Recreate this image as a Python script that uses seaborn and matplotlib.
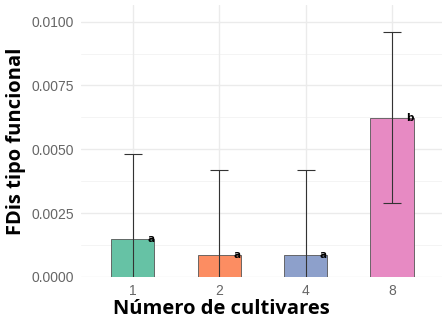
import matplotlib
matplotlib.use("Agg")
import matplotlib.pyplot as plt
import seaborn as sns
import pandas as pd
import numpy as np

# FDis by number of cultivars: mean, standard deviation and group letters
cultivares = ["1", "2", "4", "8"]
fdis_media = [0.00148, 0.00085, 0.00088, 0.00624]
fdis_dp = [0.00333, 0.00333, 0.00332, 0.00334]
letras = ["a", "a", "a", "b"]
cores = ["#66C2A5", "#FC8D62", "#8DA0CB", "#E78AC3"]
y_ticks = [0.0, 0.0025, 0.005, 0.0075, 0.01]
y_labels = ["0.0000", "0.0025", "0.0050", "0.0075", "0.0100"]

df = pd.DataFrame({"cultivares": cultivares, "fdis": fdis_media})

sns.set_theme(style="white")
fig = plt.figure(figsize=(4.42, 3.23), dpi=100)
W, H = 442, 323
ax = fig.add_axes([81 / W, (H - 277) / H, 362.8 / W, 272 / H])

# background grid (major + minor)
ax.set_axisbelow(True)
for yv in y_ticks:
    ax.axhline(yv, color="#ebebeb", lw=1.0, zorder=0)
for yv in np.arange(0.00125, 0.0105, 0.0025):
    ax.axhline(yv, color="#f2f2f2", lw=0.6, zorder=0)
for i in range(len(cultivares)):
    ax.axvline(i, color="#ebebeb", lw=1.0, zorder=0)

sns.barplot(data=df, x="cultivares", y="fdis", hue="cultivares",
            palette=cores, order=cultivares, width=0.5, legend=False,
            saturation=1, edgecolor="#555555", linewidth=0.6, ax=ax, zorder=2)

# mean ± sd; lower ends below zero are clipped by the axis limits
media = np.array(fdis_media)
dp = np.array(fdis_dp)
ax.errorbar(np.arange(len(cultivares)), media, yerr=dp,
            fmt="none", ecolor="#333333", elinewidth=0.8,
            capsize=6.2, capthick=0.8, zorder=3)

for i, (m, l) in enumerate(zip(fdis_media, letras)):
    ax.text(i + 0.165, m, l, fontsize=7.5, fontweight="bold",
            color="black", ha="left", va="center", zorder=4)

ax.set_xlim(-0.6, 3.6)
ax.set_ylim(0, 0.01065)
ax.set_yticks(y_ticks)
ax.set_yticklabels(y_labels)
for s in ax.spines.values():
    s.set_visible(False)
ax.tick_params(axis="both", length=0, labelsize=10, labelcolor="#666666", pad=5)
for lab in ax.get_xticklabels() + ax.get_yticklabels():
    lab.set_fontfamily("Liberation Sans")

ax.set_xlabel("")
ax.set_ylabel("FDis tipo funcional", fontsize=14.5, fontweight="bold",
              fontfamily="Open Sans", color="black", labelpad=4)
fig.text(0.5, 4 / H, "Número de cultivares", fontsize=14.5, fontweight="bold",
         fontfamily="Open Sans", color="black", ha="center", va="bottom")

fig.savefig("out.png", dpi=100)
